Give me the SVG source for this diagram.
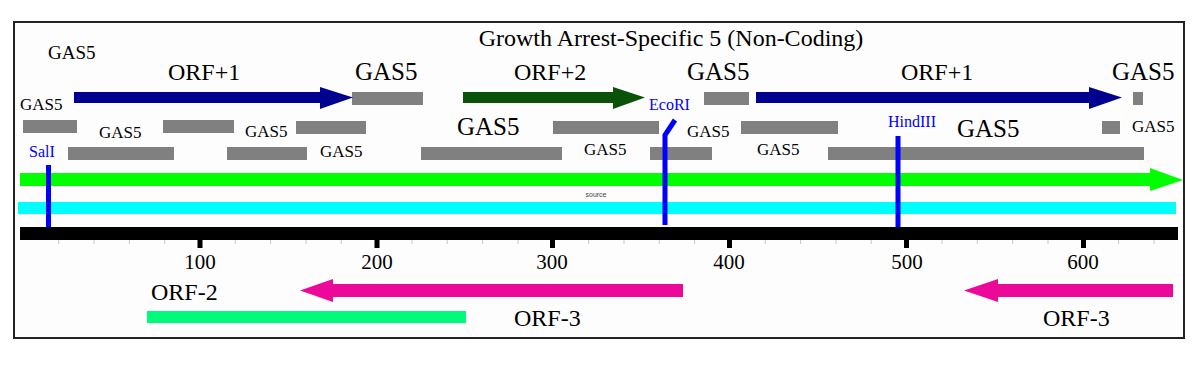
<svg xmlns="http://www.w3.org/2000/svg" width="1200" height="371" viewBox="0 0 1200 371">
<style>
text{font-family:"Liberation Serif","Times New Roman",serif;fill:#000}
.g{fill:#808080}
.s{font-size:17px}
.m{font-size:19px}
.b{font-size:24px}
.bg{font-size:25px}
.re{font-size:16px;fill:#0000ff}
.site{stroke:#0000ff;stroke-width:5;fill:none}
.num{font-size:21px;text-anchor:middle}
.minor{stroke:#c8c8c8;stroke-width:1}
.major{fill:#000}
</style>
<rect width="1200" height="371" fill="#fff"/>
<rect x="14" y="22" width="1170" height="316" fill="#fdfdfd" stroke="#222" stroke-width="2"/>
<text x="671" y="46" font-size="24" text-anchor="middle">Growth Arrest-Specific 5 (Non-Coding)</text>

<g id="labels">
<text class="m" x="48" y="59">GAS5</text>
<text class="b" x="168" y="80">ORF+1</text>
<text class="bg" x="355" y="80">GAS5</text>
<text class="b" x="514" y="80">ORF+2</text>
<text class="bg" x="687" y="80">GAS5</text>
<text class="b" x="901" y="80">ORF+1</text>
<text class="bg" x="1112" y="80">GAS5</text>
<text class="s" x="20" y="110">GAS5</text>
<text class="s" x="99" y="138">GAS5</text>
<text class="s" x="245" y="137">GAS5</text>
<text class="bg" x="457" y="135">GAS5</text>
<text class="s" x="687" y="137">GAS5</text>
<text class="bg" x="957" y="137">GAS5</text>
<text class="s" x="1132" y="132">GAS5</text>
<text class="s" x="320" y="157">GAS5</text>
<text class="s" x="584" y="155">GAS5</text>
<text class="s" x="757" y="155">GAS5</text>
<text x="596" y="197" font-size="7" text-anchor="middle" style="font-family:'Liberation Sans',Arial,sans-serif;fill:#444">source</text>
<text class="b" x="151" y="300">ORF-2</text>
<text class="b" x="514" y="326">ORF-3</text>
<text class="b" x="1043" y="326">ORF-3</text>
</g>

<g id="gas5-segments">
<rect class="g" x="352" y="92" width="71" height="13"/>
<rect class="g" x="704" y="92" width="45" height="13"/>
<rect class="g" x="1133" y="92" width="10" height="13"/>
<rect class="g" x="23" y="120" width="54" height="13"/>
<rect class="g" x="163" y="120" width="71" height="13"/>
<rect class="g" x="296" y="121" width="70" height="13"/>
<rect class="g" x="553" y="121" width="106" height="13"/>
<rect class="g" x="741" y="121" width="97" height="13"/>
<rect class="g" x="1102" y="121" width="18" height="13"/>
<rect class="g" x="68" y="147" width="106" height="13"/>
<rect class="g" x="227" y="147" width="80" height="13"/>
<rect class="g" x="421" y="147" width="141" height="13"/>
<rect class="g" x="650" y="147" width="62" height="13"/>
<rect class="g" x="828" y="147" width="316" height="13"/>
</g>

<g id="orf-arrows">
<polygon fill="#000090" points="74,92 320,92 320,87 353,97.5 320,109 320,103 74,103"/>
<polygon fill="#0a520a" points="463,92 613,92 613,87 645,97.5 613,109 613,103 463,103"/>
<polygon fill="#000090" points="756,92 1089,92 1089,87 1122,97.5 1089,109 1089,103 756,103"/>
<polygon fill="#ec0898" points="300,290.5 333,279 333,284 683,284 683,297 333,297 333,302"/>
<polygon fill="#ec0898" points="964,290.5 998,279 998,284 1173,284 1173,297 998,297 998,302"/>
<rect x="147" y="311" width="319" height="12" fill="#00fa7a"/>
</g>

<g id="tracks">
<polygon fill="#00ff00" points="20,173 1150,173 1150,168 1183,180 1150,191 1150,186 20,186"/>
<rect x="18" y="202" width="1158" height="12" fill="#00ffff"/>
<rect x="20" y="227" width="1158" height="13" fill="#000"/>
</g>

<g id="sites">
<text class="re" x="29" y="157">SalI</text>
<line class="site" x1="48.5" y1="165" x2="48.5" y2="227"/>
<text class="re" x="649" y="110">EcoRI</text>
<polyline class="site" points="675,120 665,135 665,225"/>
<text class="re" x="888" y="127">HindIII</text>
<line class="site" x1="898" y1="136" x2="898" y2="227"/>
</g>

<g id="axis">
<g class="minor">
<line x1="58.7" y1="240" x2="58.7" y2="244"/><line x1="94" y1="240" x2="94" y2="244"/><line x1="129.4" y1="240" x2="129.4" y2="244"/><line x1="164.7" y1="240" x2="164.7" y2="244"/>
<line x1="235.3" y1="240" x2="235.3" y2="244"/><line x1="270.6" y1="240" x2="270.6" y2="244"/><line x1="306" y1="240" x2="306" y2="244"/><line x1="341.3" y1="240" x2="341.3" y2="244"/>
<line x1="412" y1="240" x2="412" y2="244"/><line x1="447.3" y1="240" x2="447.3" y2="244"/><line x1="482.6" y1="240" x2="482.6" y2="244"/><line x1="518" y1="240" x2="518" y2="244"/>
<line x1="588.6" y1="240" x2="588.6" y2="244"/><line x1="624" y1="240" x2="624" y2="244"/><line x1="659.3" y1="240" x2="659.3" y2="244"/><line x1="694.6" y1="240" x2="694.6" y2="244"/>
<line x1="765.3" y1="240" x2="765.3" y2="244"/><line x1="800.6" y1="240" x2="800.6" y2="244"/><line x1="836" y1="240" x2="836" y2="244"/><line x1="871.3" y1="240" x2="871.3" y2="244"/>
<line x1="942" y1="240" x2="942" y2="244"/><line x1="977.3" y1="240" x2="977.3" y2="244"/><line x1="1012.6" y1="240" x2="1012.6" y2="244"/><line x1="1048" y1="240" x2="1048" y2="244"/>
<line x1="1118.6" y1="240" x2="1118.6" y2="244"/><line x1="1154" y1="240" x2="1154" y2="244"/>
</g>
<rect class="major" x="197.5" y="240" width="5" height="8"/>
<rect class="major" x="374.5" y="240" width="5" height="8"/>
<rect class="major" x="550" y="240" width="5" height="8"/>
<rect class="major" x="727" y="240" width="5" height="8"/>
<rect class="major" x="904" y="240" width="5" height="8"/>
<rect class="major" x="1081" y="240" width="5" height="8"/>
<text class="num" x="200" y="269">100</text>
<text class="num" x="377" y="269">200</text>
<text class="num" x="552" y="269">300</text>
<text class="num" x="729" y="269">400</text>
<text class="num" x="907" y="269">500</text>
<text class="num" x="1083" y="269">600</text>
</g>
</svg>
